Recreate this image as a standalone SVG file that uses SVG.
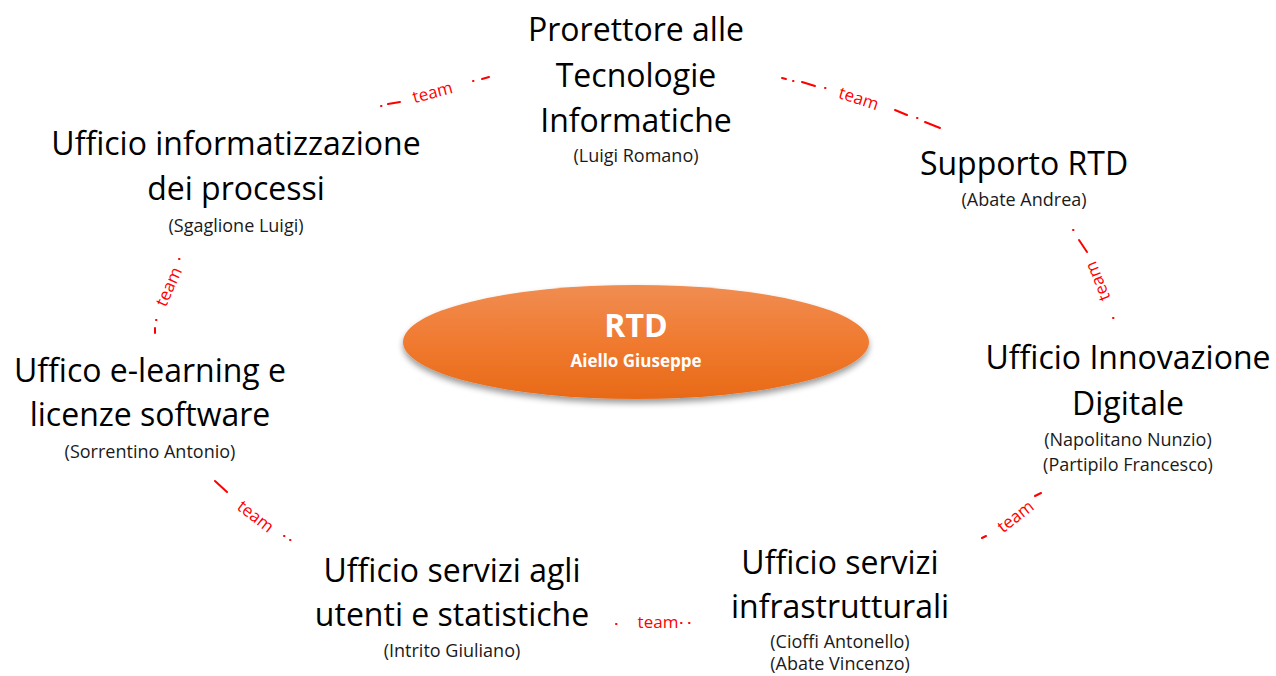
<svg xmlns="http://www.w3.org/2000/svg" width="1276" height="676" viewBox="0 0 1276 676">
<style>
.t{font-family:"Open Sans","Liberation Sans",sans-serif;font-size:32px;fill:#000;text-anchor:middle}
.s{font-family:"Open Sans","Liberation Sans",sans-serif;font-size:18px;fill:#1a1a1a;text-anchor:middle}
.lbl{font-family:"Open Sans","Liberation Sans",sans-serif;font-size:17px;fill:#ff0000;text-anchor:middle}
.c{stroke:#ff0000;stroke-width:2;stroke-linecap:round;fill:none}
</style>
<defs>
<linearGradient id="og" x1="0" y1="0" x2="0" y2="1">
<stop offset="0" stop-color="#f08d52"/>
<stop offset="0.5" stop-color="#f07a30"/>
<stop offset="1" stop-color="#e86a17"/>
</linearGradient>
<filter id="sh" x="-10%" y="-20%" width="120%" height="160%">
<feGaussianBlur in="SourceAlpha" stdDeviation="3"/>
<feOffset dx="0" dy="4"/>
<feComponentTransfer><feFuncA type="linear" slope="0.4"/></feComponentTransfer>
<feMerge><feMergeNode/><feMergeNode in="SourceGraphic"/></feMerge>
</filter>
</defs>
<rect width="1276" height="676" fill="#fff"/>
<g id="connectors">
<g id="c-top-left">
<path class="c" d="M381,106 l0.5,0 M388,104 L400,102 M473,81 l0.5,0 M482,79 L489,77"/>
<text class="lbl" transform="translate(434,98) rotate(-15)">team</text>
</g>
<g id="c-top-right">
<path class="c" d="M782,78 L786,79 M793,81 l0.5,0 M802,82 L815,86 M825,88 l0.5,0 M895,110 L907,115 M917,118 l0.5,0 M925,122 L940,128"/>
<text class="lbl" transform="translate(857,104) rotate(18)">team</text>
</g>
<g id="c-right">
<path class="c" d="M1073,230 l0.5,0 M1079,240 L1087,252 M1113,318 l0.5,0"/>
<text class="lbl" transform="translate(1103,279) rotate(-112)">team</text>
</g>
<g id="c-left">
<path class="c" d="M179,259 l0.5,0 M156,320 l0.5,0 M155,328 L155,333"/>
<text class="lbl" transform="translate(174,289) rotate(-66)">team</text>
</g>
<g id="c-bottom-left">
<path class="c" d="M215,481 L227,492 M284,536 l0.5,0 M290,540 l0.5,0"/>
<text class="lbl" transform="translate(252,521) rotate(38)">team</text>
</g>
<g id="c-bottom">
<path class="c" d="M616,624 l0.5,0 M681,623 l0.5,0 M689,623 l0.5,0"/>
<text class="lbl" x="658" y="628">team</text>
</g>
<g id="c-bottom-right">
<path class="c" d="M982,538 L986,536 M1035,496 L1041,493"/>
<text class="lbl" transform="translate(1019,521) rotate(-38)">team</text>
</g>
</g>
<g id="rtd">
<ellipse cx="636" cy="342" rx="233" ry="57" fill="url(#og)" filter="url(#sh)"/>
<text x="636" y="337" text-anchor="middle" style="font-family:'Open Sans','Liberation Sans',sans-serif;font-size:32px;font-weight:bold;fill:#fff">RTD</text>
<text x="636" y="367" text-anchor="middle" style="font-family:'Open Sans','Liberation Sans',sans-serif;font-size:17px;font-weight:bold;fill:#fff">Aiello Giuseppe</text>
</g>
<g id="prorettore">
<text class="t" x="636" y="41">Prorettore alle</text>
<text class="t" x="636" y="87">Tecnologie</text>
<text class="t" x="636" y="132">Informatiche</text>
<text class="s" x="636" y="162">(Luigi Romano)</text>
</g>
<g id="supporto">
<text class="t" x="1024" y="175">Supporto RTD</text>
<text class="s" x="1024" y="206">(Abate Andrea)</text>
</g>
<g id="innovazione">
<text class="t" x="1128" y="369">Ufficio Innovazione</text>
<text class="t" x="1128" y="415">Digitale</text>
<text class="s" x="1128" y="446">(Napolitano Nunzio)</text>
<text class="s" x="1128" y="471">(Partipilo Francesco)</text>
</g>
<g id="infrastrutturali">
<text class="t" x="840" y="574">Ufficio servizi</text>
<text class="t" x="840" y="618">infrastrutturali</text>
<text class="s" x="840" y="648">(Cioffi Antonello)</text>
<text class="s" x="840" y="670">(Abate Vincenzo)</text>
</g>
<g id="utenti">
<text class="t" x="452" y="582">Ufficio servizi agli</text>
<text class="t" x="452" y="626">utenti e statistiche</text>
<text class="s" x="452" y="657">(Intrito Giuliano)</text>
</g>
<g id="elearning">
<text class="t" x="150" y="382">Uffico e-learning e</text>
<text class="t" x="150" y="426">licenze software</text>
<text class="s" x="150" y="458">(Sorrentino Antonio)</text>
</g>
<g id="informatizzazione">
<text class="t" x="236" y="155">Ufficio informatizzazione</text>
<text class="t" x="236" y="200">dei processi</text>
<text class="s" x="236" y="232">(Sgaglione Luigi)</text>
</g>
</svg>
